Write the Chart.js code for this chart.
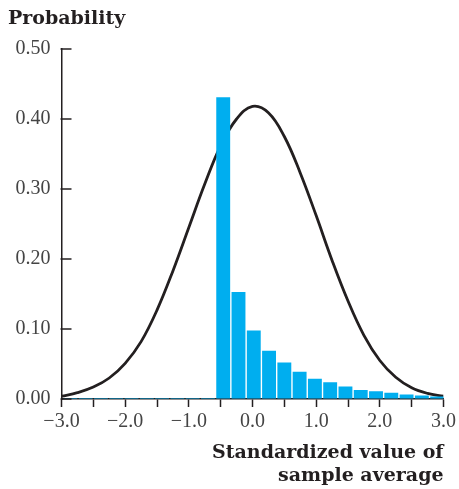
<!DOCTYPE html>
<html><head><meta charset="utf-8">
<script src="https://cdn.jsdelivr.net/npm/chart.js@4/dist/chart.umd.min.js"></script>
<style>html,body{margin:0;padding:0;background:#fff}</style>
</head><body>
<canvas id="c" width="459" height="489"></canvas>
<script>
// Bar centres (standardized value) and probabilities
const barCenters = [-2.86, -2.62, -2.38, -2.14, -1.90, -1.66, -1.42, -1.18, -0.94, -0.70,
                    -0.46, -0.22, 0.02, 0.26, 0.50, 0.74, 0.98, 1.22, 1.46, 1.70, 1.94, 2.18, 2.42, 2.66, 2.90];
const barProbs   = [0.0015, 0.0015, 0.0015, 0.0015, 0.0015, 0.0015, 0.0015, 0.0015, 0.0015, 0.0015,
                    0.431, 0.153, 0.098, 0.069, 0.052, 0.039, 0.029, 0.024, 0.018, 0.013, 0.011, 0.009, 0.0064, 0.005, 0.0036];
// Normal curve
const curveX = [-3.0, -2.75, -2.5, -2.25, -2.0, -1.75, -1.5, -1.25, -1.0, -0.75, -0.5, -0.25, 0.0,
                0.25, 0.5, 0.75, 1.0, 1.25, 1.5, 1.75, 2.0, 2.25, 2.5, 2.75, 3.0];
const curveY = [0.004, 0.009, 0.017, 0.030, 0.051, 0.082, 0.127, 0.183, 0.245, 0.307, 0.362, 0.400, 0.418,
                0.409, 0.375, 0.323, 0.262, 0.198, 0.140, 0.091, 0.055, 0.031, 0.016, 0.008, 0.004];
const yTickValues = [0, 0.1, 0.2, 0.3, 0.4, 0.5];
const xLabelValues = [-3, -2, -1, 0, 1, 2, 3];

const INK = '#231f20';
const fmtX = v => (v < 0 ? '\u2212' + Math.abs(v).toFixed(1) : v.toFixed(1));

const inTicks = {
  id: 'inTicks',
  afterDatasetsDraw(chart) {
    const y = chart.scales.y, ctx = chart.ctx;
    ctx.save();
    ctx.strokeStyle = INK; ctx.lineWidth = 1.5;
    yTickValues.forEach(v => {
      const p = y.getPixelForValue(v);
      ctx.beginPath(); ctx.moveTo(y.right - 1, p); ctx.lineTo(y.right + 10, p); ctx.stroke();
    });
    ctx.restore();
  }
};

new Chart(document.getElementById('c'), {
  type: 'line',
  data: {
    datasets: [
      {
        type: 'bar',
        data: barCenters.map((x, i) => ({x, y: barProbs[i]})),
        backgroundColor: '#00aeef',
        borderWidth: 0,
        categoryPercentage: 1,
        barPercentage: 0.91,
        order: 1
      },
      {
        type: 'line',
        data: curveX.map((x, i) => ({x, y: curveY[i]})),
        borderColor: INK,
        borderWidth: 2.8,
        pointRadius: 0,
        fill: false,
        tension: 0.4,
        order: 2
      }
    ]
  },
  plugins: [inTicks],
  options: {
    responsive: false,
    animation: false,
    devicePixelRatio: 1,
    layout: {padding: {left: 8, right: 14, top: 0, bottom: 0}},
    plugins: {
      legend: {display: false},
      tooltip: {enabled: false},
      title: {
        display: true, text: 'Probability', align: 'start', color: INK,
        font: {family: 'DejaVu Serif', weight: 'bold', size: 19, lineHeight: 1.2},
        padding: {top: 8, bottom: 18.2}
      }
    },
    scales: {
      x: {
        type: 'linear', min: -3, max: 3, offset: false,
        afterBuildTicks: s => { const t = []; for (let k = -6; k <= 6; k++) t.push({value: k / 2}); s.ticks = t; },
        ticks: {
          autoSkip: false, maxRotation: 0, padding: 3, color: '#444',
          font: {family: 'Liberation Serif', size: 20},
          callback: v => (xLabelValues.includes(v) ? fmtX(v) : '')
        },
        grid: {display: true, offset: false, drawOnChartArea: false, drawTicks: true, tickLength: 8, tickWidth: 1.5, tickColor: INK},
        border: {display: true, color: INK, width: 1.5},
        title: {
          display: true, text: ['Standardized value of', 'sample average'], align: 'end', color: INK,
          font: {family: 'DejaVu Serif', weight: 'bold', size: 19, lineHeight: 1.21},
          padding: {top: 0, bottom: 1}
        },
        afterFit: s => { s.height = 90; }
      },
      y: {
        type: 'linear', min: 0, max: 0.5,
        afterBuildTicks: s => { s.ticks = yTickValues.map(v => ({value: v})); },
        ticks: {
          padding: 11, color: '#444',
          font: {family: 'Liberation Serif', size: 20},
          callback: v => v.toFixed(2)
        },
        grid: {display: true, drawOnChartArea: false, drawTicks: false},
        border: {display: true, color: INK, width: 1.5},
        afterFit: s => { s.width = 53.5; }
      }
    }
  }
});
</script>
</body></html>
